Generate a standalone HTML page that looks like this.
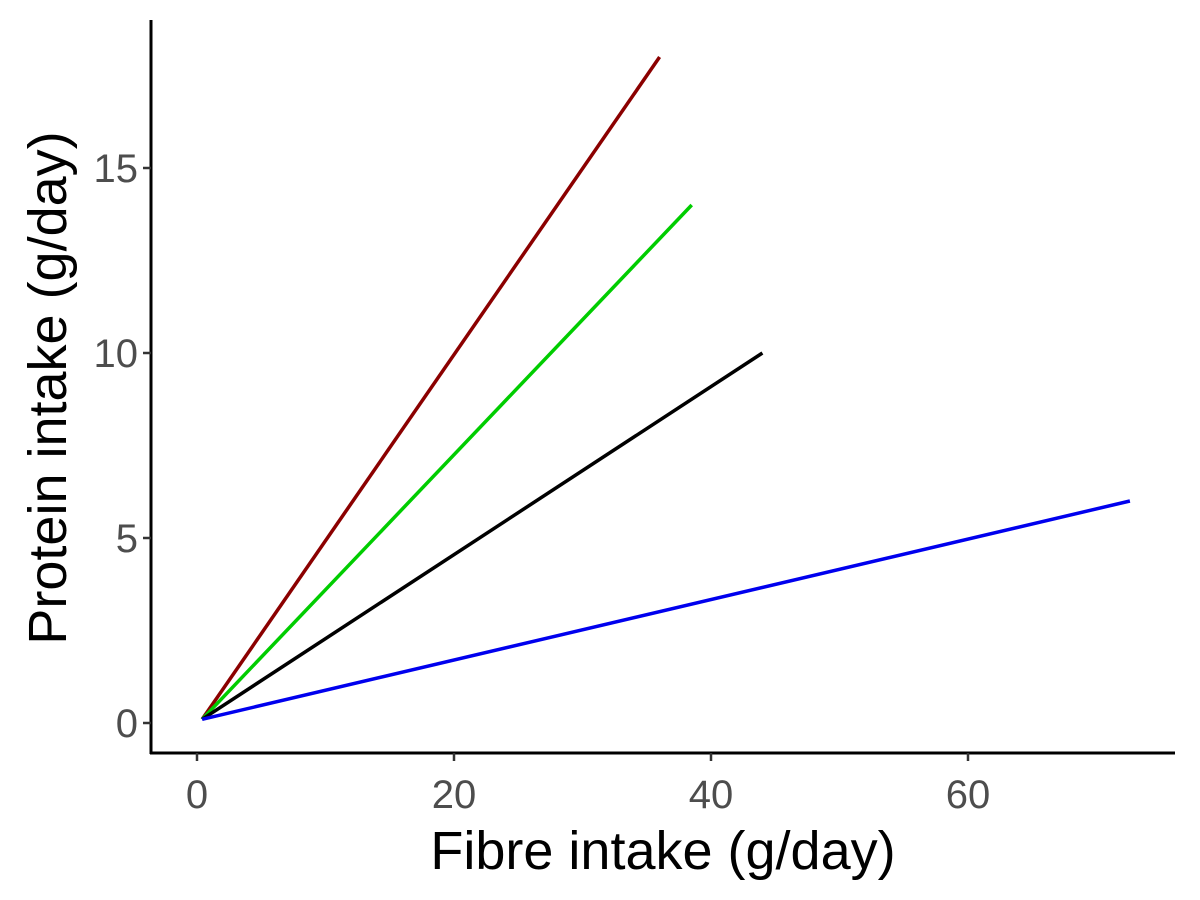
<!DOCTYPE html>
<html><head><meta charset="utf-8"><style>
html,body{margin:0;padding:0;background:#fff;}
svg{display:block;font-family:"Liberation Sans",sans-serif;}
</style></head><body>
<svg id="chart" width="1200" height="900"></svg>
<script>
const seriesNames = ["red", "green", "black", "blue"];
const seriesColors = ["#8b0000", "#00cd00", "#000000", "#0000ee"];
const startX = [0.4, 0.4, 0.4, 0.4];
const startY = [0.1, 0.1, 0.1, 0.1];
const endX = [36.0, 38.5, 44.0, 72.6];
const endY = [18.0, 14.0, 10.0, 6.0];
const xTicks = [0, 20, 40, 60];
const yTicks = [0, 5, 10, 15];

const NS = "http://www.w3.org/2000/svg";
const svg = document.getElementById("chart");
function xs(v){ return 197 + v * 12.85; }
function ys(v){ return 723 - v * 37; }
function mk(tag, attrs){ const e = document.createElementNS(NS, tag); for (const k in attrs) e.setAttribute(k, attrs[k]); svg.appendChild(e); return e; }

for (let i = 0; i < seriesNames.length; i++) {
  const l = mk("line", {x1: xs(startX[i]), y1: ys(startY[i]), x2: xs(endX[i]), y2: ys(endY[i]), stroke: seriesColors[i], "stroke-width": 3.5});
  
  
}

const ya = mk("line", {x1: 151, y1: 20, x2: 151, y2: 754, stroke: "#000", "stroke-width": 3});


const xa = mk("line", {x1: 150, y1: 753, x2: 1175, y2: 753, stroke: "#000", "stroke-width": 3});



xTicks.forEach(t => {
  const tk = mk("line", {x1: xs(t), y1: 753, x2: xs(t), y2: 761, stroke: "#333", "stroke-width": 2.5});
  
  
  const tx = mk("text", {x: xs(t), y: 808, "text-anchor": "middle", "font-size": 40, fill: "#4d4d4d"});
  tx.textContent = t;
  
  
});
yTicks.forEach(t => {
  const tk = mk("line", {x1: 143, y1: ys(t), x2: 151, y2: ys(t), stroke: "#333", "stroke-width": 2.5});
  
  
  const tx = mk("text", {x: 138, y: ys(t) + 14, "text-anchor": "end", "font-size": 40, fill: "#4d4d4d"});
  tx.textContent = t;
  
  
});

const xt = mk("text", {x: 663, y: 869, "text-anchor": "middle", "font-size": 54, fill: "#000"});
xt.textContent = "Fibre intake (g/day)";


const yt = mk("text", {x: 0, y: 0, "text-anchor": "middle", "font-size": 54, fill: "#000", transform: "translate(66,388) rotate(-90)"});
yt.textContent = "Protein intake (g/day)";


</script>
</body></html>
